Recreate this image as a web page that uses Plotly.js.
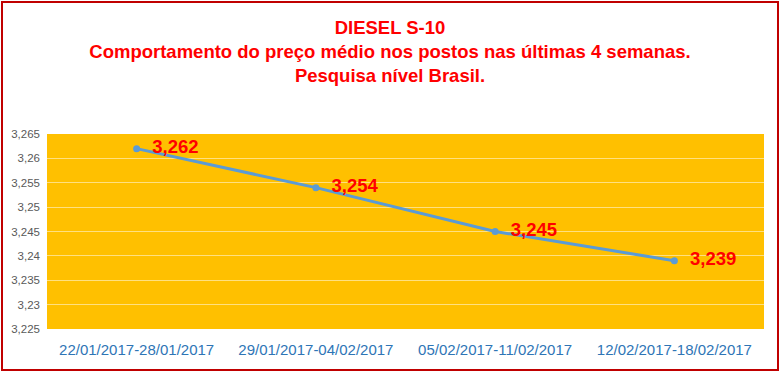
<!DOCTYPE html>
<html><head><meta charset="utf-8">
<script src="https://cdn.plot.ly/plotly-3.0.1.min.js"></script>
<style>html,body{margin:0;padding:0;background:#fff;}#chart{width:780px;height:372px;}</style>
</head><body><div id="chart"></div>
<script>
var categories = ["22/01/2017-28/01/2017","29/01/2017-04/02/2017","05/02/2017-11/02/2017","12/02/2017-18/02/2017"];
var prices = [3.262, 3.254, 3.245, 3.239];
var priceLabels = ["3,262","3,254","3,245","3,239"];
var yTickVals = [3.225,3.23,3.235,3.24,3.245,3.25,3.255,3.26,3.265];
var yTickText = ["3,225","3,23","3,235","3,24","3,245","3,25","3,255","3,26","3,265"];

var trace = {
  x: categories, y: prices, type: 'scatter', mode: 'lines+markers+text',
  line: {color: '#5B9BD5', width: 3},
  marker: {color: '#5B9BD5', size: 7},
  text: priceLabels.map(function(s){ return '\u00a0\u00a0' + s; }), textposition: 'middle right',
  textfont: {family: 'Liberation Sans, Arial, sans-serif', size: 18.5, color: '#FF0000', weight: 'bold'},
  cliponaxis: false, hoverinfo: 'none'
};
var layout = {
  width: 780, height: 372,
  margin: {l: 47, r: 16, t: 134, b: 43},
  paper_bgcolor: '#FFFFFF', plot_bgcolor: '#FFC000',
  showlegend: false,
  title: {
    text: '<b>DIESEL S-10<br>Comportamento do preço médio nos postos nas últimas 4 semanas.<br>Pesquisa nível Brasil.</b>',
    font: {family: 'Liberation Sans, Arial, sans-serif', size: 18.5, color: '#FF0000'},
    x: 0.5, xanchor: 'center', y: 0.908, yanchor: 'top'
  },
  xaxis: {
    type: 'category', range: [-0.5, 3.5], showgrid: false, zeroline: false, showline: false, ticks: '',
    tickfont: {family: 'Liberation Sans, Arial, sans-serif', size: 15, color: '#2E75B6'},
    ticklabelstandoff: 10,
    automargin: false
  },
  yaxis: {
    range: [3.225, 3.265], tickvals: yTickVals, ticktext: yTickText,
    showgrid: true, gridcolor: 'rgba(255,255,255,0.5)', gridwidth: 1,
    zeroline: false, showline: false, ticks: '',
    tickfont: {family: 'Liberation Sans, Arial, sans-serif', size: 11.5, color: '#595959'},
    ticklabelstandoff: 6,
    automargin: false
  }
};
Plotly.newPlot('chart', [trace], layout, {displayModeBar: false, staticPlot: true}).then(function(){
  var d = document.getElementById('chart');
  var b = document.createElement('div');
  b.style.cssText = 'position:absolute;left:1px;top:1px;width:774px;height:366px;border:2px solid #C00000;pointer-events:none;';
  d.style.position = 'relative';
  d.appendChild(b);
});
</script></body></html>
